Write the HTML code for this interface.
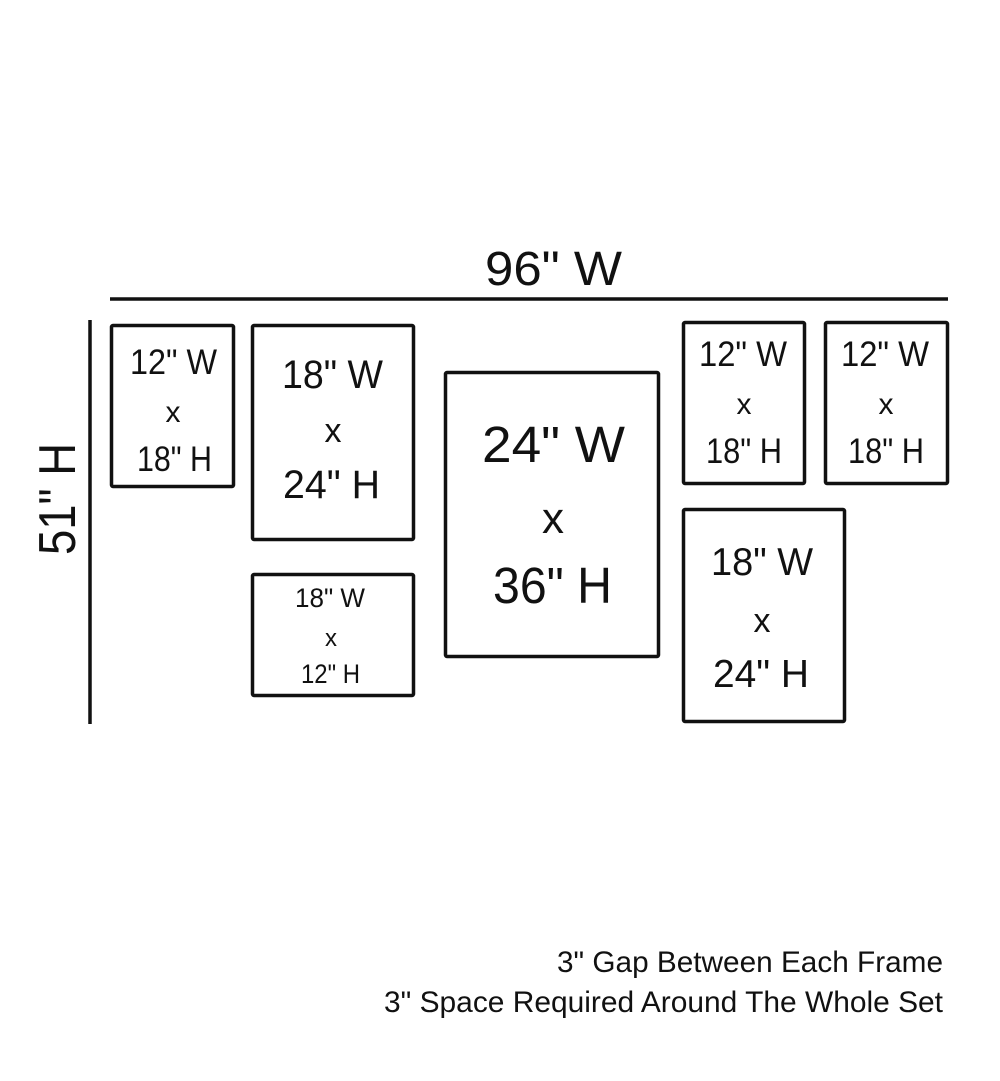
<!DOCTYPE html>
<html><head><meta charset="utf-8"><style>
html,body{margin:0;padding:0;background:#fff;}
svg{display:block;}
text{font-family:"Liberation Sans",sans-serif;fill:#111;}
</style></head><body>
<svg width="1000" height="1081" viewBox="0 0 1000 1081" xmlns="http://www.w3.org/2000/svg">
<g stroke="#111" fill="none" stroke-width="3.5" stroke-linejoin="round">
<line x1="110" y1="299" x2="948" y2="299"/>
<line x1="90" y1="320" x2="90" y2="724"/>
<rect x="111.5" y="325.5" width="122" height="161" rx="1.5"/>
<rect x="252.5" y="325.5" width="161" height="214" rx="1.5"/>
<rect x="252.5" y="574.5" width="161" height="121" rx="1.5"/>
<rect x="445.5" y="372.5" width="213" height="284" rx="1.5"/>
<rect x="683.5" y="322.5" width="121" height="161" rx="1.5"/>
<rect x="825.5" y="322.5" width="122" height="161" rx="1.5"/>
<rect x="683.5" y="509.5" width="161" height="212" rx="1.5"/>
</g>
<g>
<text x="485" y="285" font-size="48" textLength="137" lengthAdjust="spacingAndGlyphs">96" W</text>
<text transform="translate(75,555) rotate(-90)" font-size="52" textLength="112" lengthAdjust="spacingAndGlyphs">51" H</text>

<text x="130" y="374" font-size="35" textLength="87" lengthAdjust="spacingAndGlyphs">12" W</text>
<text x="173" y="422" font-size="30" text-anchor="middle">x</text>
<text x="137" y="471" font-size="35" textLength="75" lengthAdjust="spacingAndGlyphs">18" H</text>

<text x="282" y="388" font-size="40" textLength="101" lengthAdjust="spacingAndGlyphs">18" W</text>
<text x="333" y="442" font-size="34" text-anchor="middle">x</text>
<text x="283" y="498" font-size="40" textLength="97" lengthAdjust="spacingAndGlyphs">24" H</text>

<text x="295" y="607" font-size="27" textLength="70" lengthAdjust="spacingAndGlyphs">18" W</text>
<text x="331" y="646" font-size="24" text-anchor="middle">x</text>
<text x="301" y="683" font-size="27" textLength="59" lengthAdjust="spacingAndGlyphs">12" H</text>

<text x="482" y="462" font-size="51" textLength="143" lengthAdjust="spacingAndGlyphs">24" W</text>
<text x="553" y="533" font-size="44" text-anchor="middle">x</text>
<text x="493" y="603" font-size="51" textLength="119" lengthAdjust="spacingAndGlyphs">36" H</text>

<text x="699" y="366" font-size="35" textLength="88" lengthAdjust="spacingAndGlyphs">12" W</text>
<text x="744" y="414" font-size="30" text-anchor="middle">x</text>
<text x="706" y="463" font-size="35" textLength="76" lengthAdjust="spacingAndGlyphs">18" H</text>

<text x="841" y="366" font-size="35" textLength="88" lengthAdjust="spacingAndGlyphs">12" W</text>
<text x="886" y="414" font-size="30" text-anchor="middle">x</text>
<text x="848" y="463" font-size="35" textLength="76" lengthAdjust="spacingAndGlyphs">18" H</text>

<text x="711" y="575" font-size="39" textLength="102" lengthAdjust="spacingAndGlyphs">18" W</text>
<text x="762" y="632" font-size="34" text-anchor="middle">x</text>
<text x="713" y="687" font-size="39" textLength="96" lengthAdjust="spacingAndGlyphs">24" H</text>

<text x="557" y="972" font-size="30" textLength="386" lengthAdjust="spacingAndGlyphs">3" Gap Between Each Frame</text>
<text x="384" y="1012" font-size="30" textLength="559" lengthAdjust="spacingAndGlyphs">3" Space Required Around The Whole Set</text>
</g>
</svg>
</body></html>
